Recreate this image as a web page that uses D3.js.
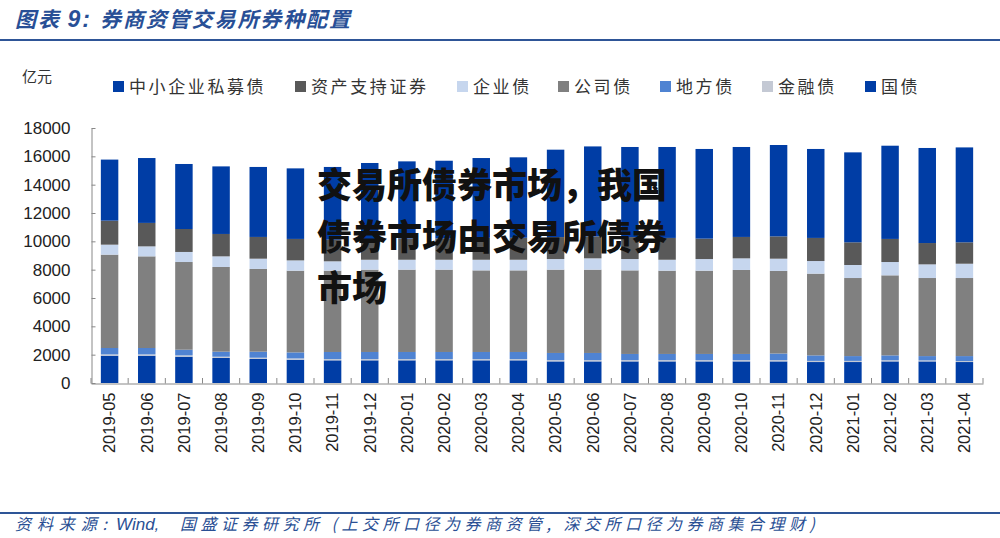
<!DOCTYPE html>
<html><head><meta charset="utf-8">
<script src="https://cdn.jsdelivr.net/npm/d3@7"></script>
<style>
html,body{margin:0;padding:0;background:#fff;}
svg{display:block;}
</style></head>
<body>
<svg id="c" width="1000" height="538"></svg>
<script>
const months = ["2019-05","2019-06","2019-07","2019-08","2019-09","2019-10","2019-11","2019-12",
"2020-01","2020-02","2020-03","2020-04","2020-05","2020-06","2020-07","2020-08","2020-09","2020-10",
"2020-11","2020-12","2021-01","2021-02","2021-03","2021-04"];
// stack order bottom -> top
const guozhai   = [1930,1930,1860,1765,1695,1645,1600,1600,1600,1600,1600,1600,1525,1525,1525,1525,1525,1525,1525,1480,1480,1525,1525,1480];
const jinrong   = [90,90,90,90,90,90,90,90,90,90,90,90,90,90,90,90,90,90,90,80,80,80,70,70];
const difang    = [450,450,400,355,425,425,500,500,500,500,500,500,505,505,435,435,435,435,465,390,340,345,305,350];
const gongsi    = [6590,6470,6190,5980,5840,5770,5740,5810,5810,5810,5760,5760,5880,5880,5900,5880,5880,5930,5830,5770,5510,5650,5510,5510];
const qiye      = [705,705,710,750,725,725,660,700,700,700,750,750,750,800,800,770,820,820,865,890,920,940,965,1010];
const abs       = [1695,1655,1620,1580,1535,1515,1530,1450,1500,1500,1550,1550,1550,1550,1550,1540,1440,1510,1575,1630,1600,1630,1505,1510];
const simu      = [4310,4580,4590,4770,4940,4980,5130,5380,5445,5490,5630,5680,6170,6350,6360,6420,6330,6350,6450,6280,6350,6580,6710,6700];
const yTicks = [0,2000,4000,6000,8000,10000,12000,14000,16000,18000];
const legendNames = ["中小企业私募债","资产支持证券","企业债","公司债","地方债","金融债","国债"];

const seriesKeys = ["国债","金融债","地方债","公司债","企业债","资产支持证券","中小企业私募债"];
const seriesVals = [guozhai,jinrong,difang,gongsi,qiye,abs,simu];
const colors = {"国债":"#003da5","金融债":"#c4c9d4","地方债":"#4f83d2","公司债":"#808080","企业债":"#c6d6ee","资产支持证券":"#595959","中小企业私募债":"#003da5"};

const rows = months.map((m,i)=>{const r={month:m}; seriesKeys.forEach((k,j)=>r[k]=seriesVals[j][i]); return r;});
const stack = d3.stack().keys(seriesKeys)(rows);

const svg = d3.select("#c");
const x = d3.scaleBand().domain(months).range([91,983]).paddingInner(0.53).paddingOuter(0.265);
const y = d3.scaleLinear().domain([0,18000]).range([383,128]);

// title
const tt = svg.append("text").attr("x",15).attr("y",27)
  .attr("font-family","'Noto Sans CJK SC',sans-serif").attr("font-size",21).attr("font-weight",700)
  .attr("font-style","italic").attr("fill","#284f96")
  .attr("textLength",335).attr("lengthAdjust","spacing");
tt.append("tspan").text("图表 ");
tt.append("tspan").attr("font-family","'Liberation Sans',Arial,sans-serif").attr("font-size",23).text("9: ");
tt.append("tspan").text("券商资管交易所券种配置");
svg.append("rect").attr("x",0).attr("y",39).attr("width",1000).attr("height",2).attr("fill","#2e5597");

// unit
svg.append("text").attr("x",22).attr("y",82).attr("font-family","'Noto Sans CJK SC',sans-serif")
  .attr("font-size",15).attr("fill","#333").text("亿元");

// legend
const legX = [113,295,457,558,660,762,865];
const lg = svg.append("g");
legendNames.forEach((n,i)=>{
  lg.append("rect").attr("x",legX[i]).attr("y",81).attr("width",11).attr("height",11).attr("fill",colors[n]);
  lg.append("text").attr("x",legX[i]+16).attr("y",93).attr("font-family","'Noto Sans CJK SC',sans-serif")
    .attr("font-size",17).attr("letter-spacing",2.6).attr("fill","#333").text(n);
});

// bars
svg.append("g").selectAll("g").data(stack).join("g").attr("fill",d=>colors[d.key])
  .selectAll("rect").data(d=>d).join("rect")
  .attr("x",d=>x(d.data.month)).attr("width",x.bandwidth())
  .attr("y",d=>y(d[1])).attr("height",d=>y(d[0])-y(d[1]));

// y axis
const ya = svg.append("g").attr("transform","translate(91.5,0)")
  .call(d3.axisLeft(y).tickValues(yTicks).tickSizeInner(-4).tickSizeOuter(0).tickPadding(21).tickFormat(d3.format("d")));
ya.select(".domain").attr("stroke","#888");
ya.selectAll(".tick line").attr("stroke","#888");
ya.selectAll(".tick text").attr("font-family","'Liberation Sans',Arial,sans-serif").attr("font-size",17).attr("fill","#222");

// x axis
const xa = svg.append("g").attr("transform","translate(0,383.5)")
  .call(d3.axisBottom(x).tickSize(0).tickSizeOuter(0).tickPadding(0));
xa.select(".domain").attr("stroke","#888");
xa.selectAll(".tick text").attr("font-family","'Liberation Sans',Arial,sans-serif").attr("font-size",16.5)
  .attr("fill","#222").attr("text-anchor","end").attr("transform","translate(0,9) rotate(-90)")
  .attr("x",0).attr("y",0).attr("dy","0.35em");
// separator ticks between categories
const step = x.step();
const bounds = d3.range(months.length+1).map(i=>x(months[0]) - (step-x.bandwidth())/2 + i*step);
svg.append("g").selectAll("line").data(bounds).join("line")
  .attr("x1",d=>d).attr("x2",d=>d).attr("y1",378).attr("y2",383.5).attr("stroke","#888");

// overlay text
const ov = svg.append("g").attr("font-family","'Noto Sans CJK SC',sans-serif").attr("font-weight",900)
  .attr("font-size",35).attr("fill","#111");
["交易所债券市场，我国","债券市场由交易所债券","市场"].forEach((t,i)=>{
  ov.append("text").attr("x",317).attr("y",198+i*51.5).text(t);
});

// footer
svg.append("rect").attr("x",0).attr("y",512).attr("width",1000).attr("height",2).attr("fill","#2e5597");
const ft = svg.append("g").attr("font-style","italic").attr("fill","#2a4f94");
ft.append("text").attr("x",15).attr("y",530).attr("font-family","'Noto Sans CJK SC',sans-serif")
  .attr("font-size",16).attr("textLength",92).attr("lengthAdjust","spacing").text("资料来源:");
ft.append("text").attr("x",116).attr("y",530).attr("font-family","'Liberation Sans',Arial,sans-serif")
  .attr("font-size",17).text("Wind,");
ft.append("text").attr("x",180).attr("y",530).attr("font-family","'Noto Sans CJK SC',sans-serif")
  .attr("font-size",16).attr("textLength",635).attr("lengthAdjust","spacing")
  .text("国盛证券研究所 (上交所口径为券商资管, 深交所口径为券商集合理财)");
</script>
</body></html>
